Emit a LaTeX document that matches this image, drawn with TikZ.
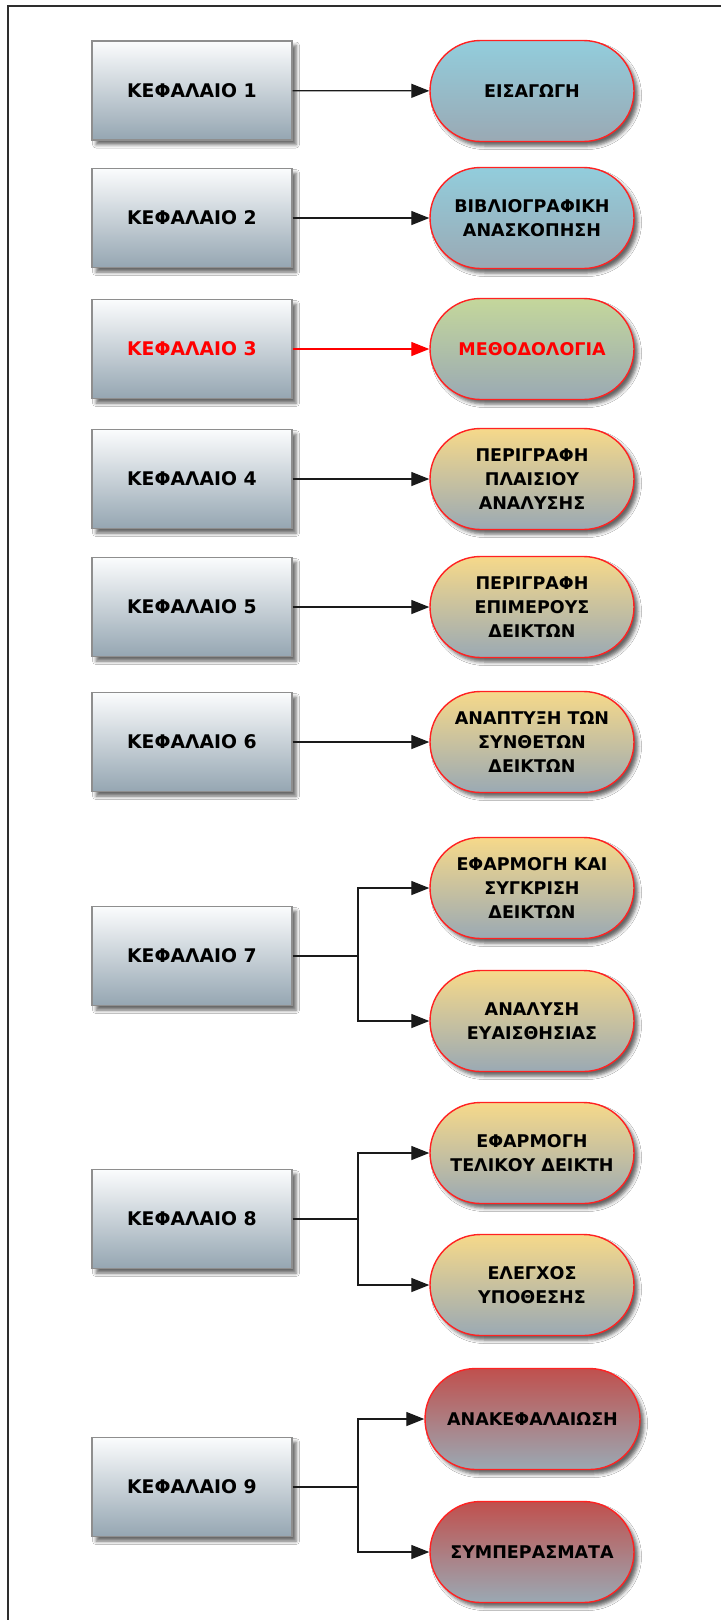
\documentclass[tikz,border=0pt]{standalone}
\usepackage{fontspec}
\setmainfont{DejaVu Sans}
\usetikzlibrary{shapes.misc,arrows.meta,shadows.blur}

\definecolor{frameline}{HTML}{2E2E2E}
\definecolor{boxedge}{HTML}{8E8E8E}
\definecolor{boxtop}{HTML}{FBFCFD}
\definecolor{boxbot}{HTML}{95A6B2}
\definecolor{topicedge}{HTML}{FF2222}
\definecolor{greybot}{HTML}{9AA9B4}
\definecolor{bluetop}{HTML}{92CDDC}
\definecolor{greentop}{HTML}{C4D79B}
\definecolor{yellowtop}{HTML}{F6D98A}
\definecolor{redtop}{HTML}{C0504D}
\definecolor{linkcol}{HTML}{1A1A1A}
\definecolor{hilite}{HTML}{FF0000}

\newcommand{\labelfont}{\fontsize{17.5}{24}\selectfont\bfseries}
\newcommand{\chapfont}{\fontsize{18.8}{24}\selectfont\bfseries}

\begin{document}
\begin{tikzpicture}[x=1pt,y=-1pt,
  soft/.style={blur shadow={shadow xshift=4pt,shadow yshift=-4.5pt,
      shadow blur radius=3.5pt,shadow opacity=60}},
  chapter/.style={rectangle,draw=boxedge,line width=1.2pt,
      top color=boxtop,bottom color=boxbot,
      minimum width=200pt,minimum height=99pt,inner sep=0pt,
      font=\chapfont,soft},
  topic/.style={rounded rectangle,draw=topicedge,line width=1.4pt,
      minimum width=204pt,minimum height=101pt,inner sep=0pt,
      align=center,font=\labelfont,soft},
  tintblue/.style={top color=bluetop,bottom color=greybot},
  tintgreen/.style={top color=greentop,bottom color=greybot},
  tintyellow/.style={top color=yellowtop,bottom color=greybot},
  tintred/.style={top color=redtop,bottom color=greybot},
  link/.style={draw=linkcol,line width=1.3pt,
      -{Triangle[length=18pt,width=14pt]}},
  plain/.style={draw=linkcol,line width=1.3pt},
]
\useasboundingbox (0,0) rectangle (721,1620);
\fill[white] (0,0) rectangle (721,1620);

% page frame (top and left edges)
\draw[frameline,line width=1.5pt] (8,1620) -- (8,6) -- (721,6);

% chapters
\node[chapter] (c1) at (192,90.5) {ΚΕΦΑΛΑΙΟ 1};
\node[chapter] (c2) at (192,218) {ΚΕΦΑΛΑΙΟ 2};
\node[chapter,text=hilite] (c3) at (192,349) {ΚΕΦΑΛΑΙΟ 3};
\node[chapter] (c4) at (192,479) {ΚΕΦΑΛΑΙΟ 4};
\node[chapter] (c5) at (192,607) {ΚΕΦΑΛΑΙΟ 5};
\node[chapter] (c6) at (192,742) {ΚΕΦΑΛΑΙΟ 6};
\node[chapter] (c7) at (192,956) {ΚΕΦΑΛΑΙΟ 7};
\node[chapter] (c8) at (192,1219) {ΚΕΦΑΛΑΙΟ 8};
\node[chapter] (c9) at (192,1487) {ΚΕΦΑΛΑΙΟ 9};

% topics
\node[topic,tintblue] (t1) at (532,91) {ΕΙΣΑΓΩΓΗ};
\node[topic,tintblue] (t2) at (532,218) {ΒΙΒΛΙΟΓΡΑΦΙΚΗ\\ΑΝΑΣΚΟΠΗΣΗ};
\node[topic,tintgreen,text=hilite] (t3) at (532,349) {ΜΕΘΟΔΟΛΟΓΙΑ};
\node[topic,tintyellow] (t4) at (532,479) {ΠΕΡΙΓΡΑΦΗ\\ΠΛΑΙΣΙΟΥ\\ΑΝΑΛΥΣΗΣ};
\node[topic,tintyellow] (t5) at (532,607) {ΠΕΡΙΓΡΑΦΗ\\ΕΠΙΜΕΡΟΥΣ\\ΔΕΙΚΤΩΝ};
\node[topic,tintyellow] (t6) at (532,742) {ΑΝΑΠΤΥΞΗ ΤΩΝ\\ΣΥΝΘΕΤΩΝ\\ΔΕΙΚΤΩΝ};
\node[topic,tintyellow] (t7a) at (532,888) {ΕΦΑΡΜΟΓΗ ΚΑΙ\\ΣΥΓΚΡΙΣΗ\\ΔΕΙΚΤΩΝ};
\node[topic,tintyellow] (t7b) at (532,1021) {ΑΝΑΛΥΣΗ\\ΕΥΑΙΣΘΗΣΙΑΣ};
\node[topic,tintyellow] (t8a) at (532,1153) {ΕΦΑΡΜΟΓΗ\\ΤΕΛΙΚΟΥ ΔΕΙΚΤΗ};
\node[topic,tintyellow] (t8b) at (532,1285) {ΕΛΕΓΧΟΣ\\ΥΠΟΘΕΣΗΣ};
\node[topic,tintred,minimum width=215pt] (t9a) at (532.5,1419) {ΑΝΑΚΕΦΑΛΑΙΩΣΗ};
\node[topic,tintred] (t9b) at (532,1552) {ΣΥΜΠΕΡΑΣΜΑΤΑ};

% branch points
\coordinate (j7) at (358,956);
\coordinate (j8) at (358,1219);
\coordinate (j9) at (358,1487);

% connectors
\draw[link] (c1) -- (t1);
\draw[link] (c2) -- (t2);
\draw[link,draw=hilite,fill=hilite] (c3) -- (t3);
\draw[link] (c4) -- (t4);
\draw[link] (c5) -- (t5);
\draw[link] (c6) -- (t6);

\draw[plain] (c7.east) -- (j7);
\draw[link] (j7) |- (t7a.west);
\draw[link] (j7) |- (t7b.west);

\draw[plain] (c8.east) -- (j8);
\draw[link] (j8) |- (t8a.west);
\draw[link] (j8) |- (t8b.west);

\draw[plain] (c9.east) -- (j9);
\draw[link] (j9) |- (t9a.west);
\draw[link] (j9) |- (t9b.west);
\end{tikzpicture}
\end{document}
